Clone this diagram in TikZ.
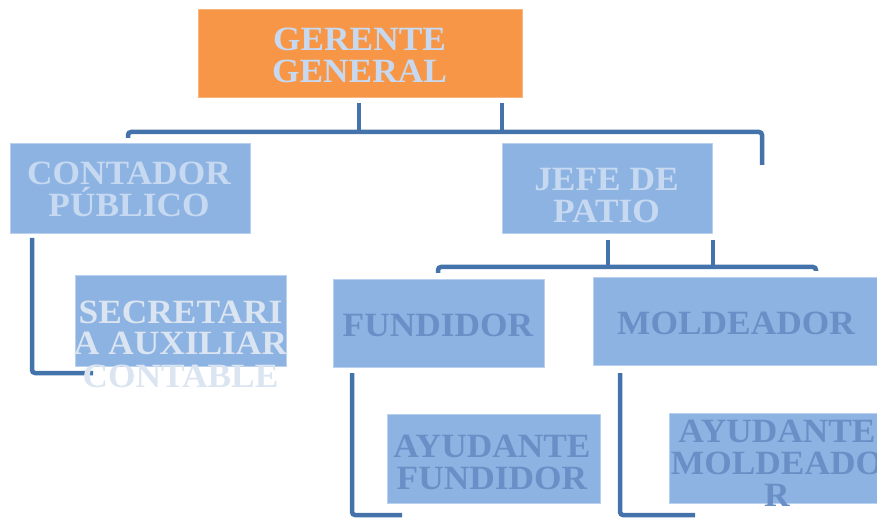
\documentclass[tikz,border=0pt]{standalone}
\usepackage{fontspec}
\setmainfont{Liberation Serif}[FakeStretch=1.04]
\definecolor{orangebox}{HTML}{F79646}
\definecolor{bluebox}{HTML}{8DB3E2}
\definecolor{boxedge}{HTML}{B9D0EE}
\definecolor{lighttext}{HTML}{C6D9F1}
\definecolor{palertext}{HTML}{DBE5F1}
\definecolor{darktext}{HTML}{6A8FC7}
\definecolor{linkcol}{HTML}{4472AA}
\newcommand\mylines[1]{\vtop{\halign{\hfil##\hfil\cr#1\crcr}}}
\tikzset{
  box/.style={rectangle, inner sep=0pt, fill=bluebox, draw=boxedge, line width=0.8pt},
  topbox/.style={box, fill=orangebox, draw=orangebox!70!white},
  txt/.style={inner sep=0pt, anchor=base, font=\fontsize{34}{32}\selectfont\bfseries},
  link/.style={draw=linkcol, line width=4.5pt, rounded corners=3pt}
}
\begin{document}
\begin{tikzpicture}[x=1pt,y=-1pt]
\useasboundingbox (0,0) rectangle (877,518);
\clip (0,0) rectangle (877,518);
% connector anchor points
\coordinate (g1) at (359,103);
\coordinate (g2) at (502,103);
\coordinate (hl) at (128,138);
\coordinate (hr) at (762,165);
\coordinate (j1) at (608,240);
\coordinate (j2) at (713,240);
\coordinate (jl) at (438,273);
\coordinate (jr) at (816,271);
\coordinate (c1) at (32,238);
\coordinate (c2) at (93,373);
\coordinate (f1) at (352,373);
\coordinate (f2) at (402,515);
\coordinate (m1) at (620,373);
\coordinate (m2) at (695,515);
% connectors
\draw[link] (g1) -- (g1 |- 0,132);
\draw[link] (g2) -- (g2 |- 0,132);
\draw[link] (hl) -- (128,132) -- (762,132) -- (hr);
\draw[link] (j1) -- (j1 |- 0,267);
\draw[link] (j2) -- (j2 |- 0,267);
\draw[link] (jl) -- (438,267) -- (816,267) -- (jr);
\draw[link] (c1) -- (c1 |- c2) -- (c2);
\draw[link] (f1) -- (f1 |- f2) -- (f2);
\draw[link] (m1) -- (m1 |- m2) -- (m2);
% boxes
\node[topbox, minimum width=324pt, minimum height=88pt] (gg) at (360,53) {};
\node[box, minimum width=240pt, minimum height=90pt] (cp) at (130,188) {};
\node[box, minimum width=210pt, minimum height=90pt] (jp) at (607,188) {};
\node[box, minimum width=211pt, minimum height=91pt] (sec) at (180.5,320.5) {};
\node[box, minimum width=211pt, minimum height=88pt] (fun) at (438.5,323) {};
\node[box, minimum width=286pt, minimum height=88pt] (mol) at (736,321) {};
\node[box, minimum width=213pt, minimum height=89pt] (af) at (493.5,458.5) {};
\node[box, minimum width=218pt, minimum height=90pt] (am) at (778,458) {};
% texts
\node[txt, text=lighttext] (gg-t) at (359.5,51) {\mylines{GERENTE\cr GENERAL}};
\node[txt, text=lighttext] (cp-t) at (129,185) {\mylines{CONTADOR\cr PÚBLICO}};
\node[txt, text=lighttext] (jp-t) at (606.5,191) {\mylines{JEFE DE\cr PATIO}};
\node[txt, text=palertext] (sec-t) at (180.5,323) {\mylines{SECRETARI\cr A AUXILIAR\cr CONTABLE}};
\node[txt, text=darktext] (fun-t) at (438,336) {\mylines{FUNDIDOR}};
\node[txt, text=darktext] (mol-t) at (736,334) {\mylines{MOLDEADOR}};
\node[txt, text=darktext] (af-t) at (492,457) {\mylines{AYUDANTE\cr FUNDIDOR}};
\node[txt, text=darktext] (am-t) at (777,442) {\mylines{AYUDANTE\cr MOLDEADO\cr R}};
\end{tikzpicture}
\end{document}
